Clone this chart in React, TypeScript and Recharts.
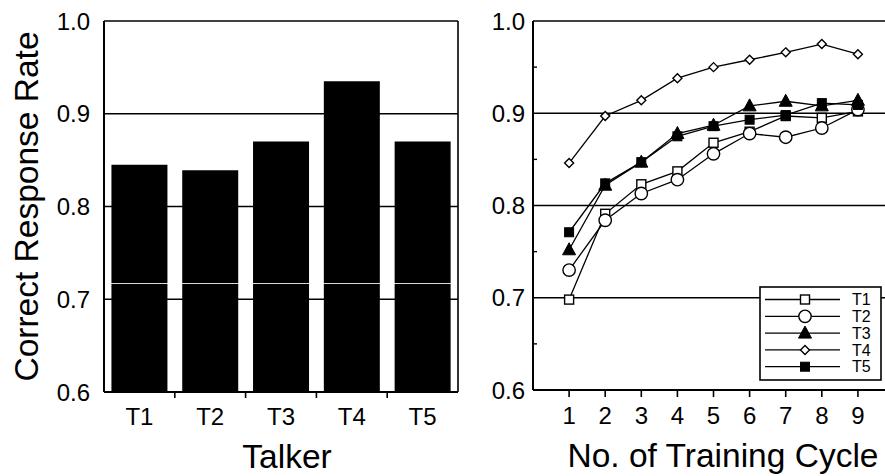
import React from 'react';
import {
  BarChart,
  Bar,
  LineChart,
  Line,
  XAxis,
  YAxis,
  CartesianGrid,
  ReferenceLine,
  Legend,
} from 'recharts';

const FONT = '"Liberation Sans", Arial, Helvetica, sans-serif';

// Overall correct response rate per talker
const talkers = ['T1', 'T2', 'T3', 'T4', 'T5'];
const overallRate = [0.845, 0.839, 0.87, 0.935, 0.87];

// Correct response rate per training cycle, one list per talker
const cycles = [1, 2, 3, 4, 5, 6, 7, 8, 9];
const seriesNames = ['T1', 'T2', 'T3', 'T4', 'T5'];
const t1Rate = [0.698, 0.791, 0.823, 0.837, 0.868, 0.88, 0.897, 0.895, 0.902];
const t2Rate = [0.73, 0.784, 0.813, 0.828, 0.856, 0.878, 0.874, 0.884, 0.904];
const t3Rate = [0.752, 0.822, 0.847, 0.878, 0.887, 0.908, 0.913, 0.908, 0.914];
const t4Rate = [0.846, 0.897, 0.914, 0.938, 0.95, 0.958, 0.966, 0.975, 0.964];
const t5Rate = [0.771, 0.824, 0.847, 0.875, 0.886, 0.893, 0.898, 0.911, 0.909];

// Axis ticks
const rateTicks = [0.6, 0.7, 0.8, 0.9, 1.0];
const fineRateTicks = [0.6, 0.65, 0.7, 0.75, 0.8, 0.85, 0.9, 0.95, 1.0];
const gridValues = [0.7, 0.8, 0.9, 1.0];
const seamValue = 0.717;

const barData = talkers.map((talker, i) => ({ talker, rate: overallRate[i] }));
const seriesValues = [t1Rate, t2Rate, t3Rate, t4Rate, t5Rate];
const lineData = cycles.map((cycle, i) => {
  const row: Record<string, number> = { cycle };
  seriesNames.forEach((name, s) => {
    row[name] = seriesValues[s][i];
  });
  return row;
});

type Shape = 'squareOpen' | 'circleOpen' | 'triangle' | 'diamondOpen' | 'squareFilled';
const seriesShapes: Shape[] = ['squareOpen', 'circleOpen', 'triangle', 'diamondOpen', 'squareFilled'];

function Marker({ shape, cx, cy }: { shape: Shape; cx: number; cy: number }) {
  const sw = 1.4;
  switch (shape) {
    case 'squareOpen':
      return <rect x={cx - 4.5} y={cy - 4.5} width={9} height={9} fill="#fff" stroke="#000" strokeWidth={sw} />;
    case 'circleOpen':
      return <circle cx={cx} cy={cy} r={6.2} fill="#fff" stroke="#000" strokeWidth={sw} />;
    case 'triangle':
      return (
        <polygon
          points={`${cx},${cy - 7} ${cx - 6.5},${cy + 5} ${cx + 6.5},${cy + 5}`}
          fill="#000"
          stroke="#000"
          strokeWidth={1}
        />
      );
    case 'diamondOpen':
      return (
        <polygon
          points={`${cx},${cy - 4.5} ${cx + 4.5},${cy} ${cx},${cy + 4.5} ${cx - 4.5},${cy}`}
          fill="#fff"
          stroke="#000"
          strokeWidth={sw}
        />
      );
    case 'squareFilled':
    default:
      return <rect x={cx - 4.5} y={cy - 4.5} width={9} height={9} fill="#000" stroke="#000" strokeWidth={1} />;
  }
}

const makeDot = (name: string, shape: Shape) => (props: any) => {
  const { cx, cy, index } = props;
  if (cx == null || cy == null) return <g key={`${name}-${index}`} />;
  return (
    <g key={`${name}-${index}`}>
      <Marker shape={shape} cx={cx} cy={cy} />
    </g>
  );
};

// Category ticks: label at band centre, tick mark at the band boundary
const TalkerTick = (props: any) => {
  const { x, y, payload, index } = props;
  const half = payload && typeof payload.offset === 'number' ? payload.offset : 0;
  const axisY = y - 16;
  return (
    <g>
      <text x={x} y={y + 17} textAnchor="middle" fontFamily={FONT} fontSize={24} fill="#000">
        {payload.value}
      </text>
      {index < talkers.length - 1 && half > 0 ? (
        <line x1={x + half} x2={x + half} y1={axisY} y2={axisY + 6} stroke="#000" strokeWidth={1.6} />
      ) : null}
    </g>
  );
};

// Rate axis with labelled tenths and short inward marks at the halfway steps
const FineRateTick = (props: any) => {
  const { x, y, payload } = props;
  const v = Number(payload.value);
  const major = Math.round(v * 100) % 10 === 0;
  const axisX = x + 8;
  return (
    <g>
      {major ? (
        <text x={x} y={y} dy="0.36em" textAnchor="end" fontFamily={FONT} fontSize={24} fill="#000">
          {v.toFixed(1)}
        </text>
      ) : (
        <line x1={axisX} x2={axisX + 4} y1={y} y2={y} stroke="#000" strokeWidth={1.4} />
      )}
    </g>
  );
};

const xTitle = (text: string, dx: number, bottomGap: number) => (props: any) => {
  const vb = props.viewBox || {};
  const cx = vb.x + vb.width / 2 + dx;
  const by = vb.y + vb.height - bottomGap;
  return (
    <text x={cx} y={by} textAnchor="middle" fontFamily={FONT} fontSize={33.5} fill="#000">
      {text}
    </text>
  );
};

const yTitle = (text: string) => (props: any) => {
  const vb = props.viewBox || {};
  const tx = vb.x + 38;
  const ty = vb.y + vb.height / 2;
  return (
    <text
      x={tx}
      y={ty}
      textAnchor="middle"
      transform={`rotate(-90, ${tx}, ${ty})`}
      fontFamily={FONT}
      fontSize={33.5}
      fill="#000"
    >
      {text}
    </text>
  );
};

const LegendBox = () => {
  const rowH = 16.8;
  return (
    <svg width={124} height={96} style={{ display: 'block' }}>
      <rect x={1} y={1} width={121} height={93} fill="#fff" stroke="#000" strokeWidth={1.6} />
      {seriesNames.map((name, i) => {
        const cy = 13.5 + i * rowH;
        return (
          <g key={name}>
            <line x1={6} x2={81} y1={cy} y2={cy} stroke="#000" strokeWidth={1.3} />
            <Marker shape={seriesShapes[i]} cx={46} cy={cy} />
            <text x={93} y={cy} dy="0.36em" fontFamily={FONT} fontSize={16} fill="#000">
              {name}
            </text>
          </g>
        );
      })}
    </svg>
  );
};

export default function App() {
  return (
    <div style={{ position: 'absolute', left: 0, top: 0, width: 885, height: 476, background: '#fff' }}>
      <div style={{ position: 'absolute', left: 0, top: 0 }}>
        <BarChart
          width={470}
          height={476}
          data={barData}
          margin={{ top: 21, right: 11, bottom: 0, left: 0 }}
          barCategoryGap="10.5%"
          style={{ fontFamily: FONT }}
        >
          <CartesianGrid yAxisId="left" vertical={false} stroke="#000" strokeWidth={1.4} strokeOpacity={1} />
          <XAxis
            dataKey="talker"
            height={84}
            axisLine={{ stroke: '#000', strokeWidth: 2 }}
            tickLine={false}
            tickSize={0}
            tickMargin={16}
            tick={<TalkerTick />}
            interval={0}
            label={{ content: xTitle('Talker', 6, 8) } as any}
          />
          <YAxis
            yAxisId="left"
            width={104}
            domain={[0.6, 1.0]}
            ticks={rateTicks}
            allowDataOverflow
            axisLine={{ stroke: '#000', strokeWidth: 2 }}
            tickLine={false}
            tickSize={0}
            tickMargin={14}
            tick={{ fontSize: 24, fill: '#000', fontFamily: FONT }}
            tickFormatter={(v: number) => v.toFixed(1)}
            label={{ content: yTitle('Correct Response Rate') } as any}
          />
          <YAxis
            yAxisId="frame"
            orientation="right"
            width={1}
            domain={[0.6, 1.0]}
            ticks={rateTicks}
            tick={false}
            tickLine={false}
            axisLine={{ stroke: '#000', strokeWidth: 1.6 }}
          />
          <Bar yAxisId="left" dataKey="rate" fill="#000" isAnimationActive={false} />
          <ReferenceLine yAxisId="left" y={seamValue} stroke="#fff" strokeOpacity={0.85} strokeWidth={1.2} />
        </BarChart>
      </div>
      <div style={{ position: 'absolute', left: 440, top: 0 }}>
        <LineChart
          width={445}
          height={476}
          data={lineData}
          margin={{ top: 21, right: 0, bottom: 0, left: 0 }}
          style={{ fontFamily: FONT }}
        >
          <CartesianGrid
            vertical={false}
            horizontalValues={gridValues}
            stroke="#000"
            strokeWidth={1.4}
            strokeOpacity={1}
          />
          <XAxis
            dataKey="cycle"
            type="number"
            domain={[0, 9.75]}
            ticks={cycles}
            height={86}
            allowDataOverflow
            axisLine={{ stroke: '#000', strokeWidth: 2 }}
            tickLine={{ stroke: '#000', strokeWidth: 1.6 }}
            tickSize={7}
            tickMargin={10}
            tick={{ fontSize: 24, fill: '#000', fontFamily: FONT }}
            label={{ content: xTitle('No. of Training Cycle', 14, 9) } as any}
          />
          <YAxis
            width={93}
            domain={[0.6, 1.0]}
            ticks={fineRateTicks}
            interval={0}
            allowDataOverflow
            axisLine={{ stroke: '#000', strokeWidth: 2 }}
            tickLine={false}
            tickSize={0}
            tickMargin={8}
            tick={<FineRateTick />}
          />
          {seriesNames.map((name, i) => (
            <Line
              key={name}
              dataKey={name}
              stroke="#000"
              strokeWidth={1.3}
              dot={makeDot(name, seriesShapes[i])}
              activeDot={false}
              isAnimationActive={false}
            />
          ))}
          <Legend
            layout="vertical"
            align="center"
            verticalAlign="middle"
            wrapperStyle={{ position: 'absolute', left: 319, top: 286, width: 124, height: 96 }}
            content={() => <LegendBox />}
          />
        </LineChart>
      </div>
    </div>
  );
}
